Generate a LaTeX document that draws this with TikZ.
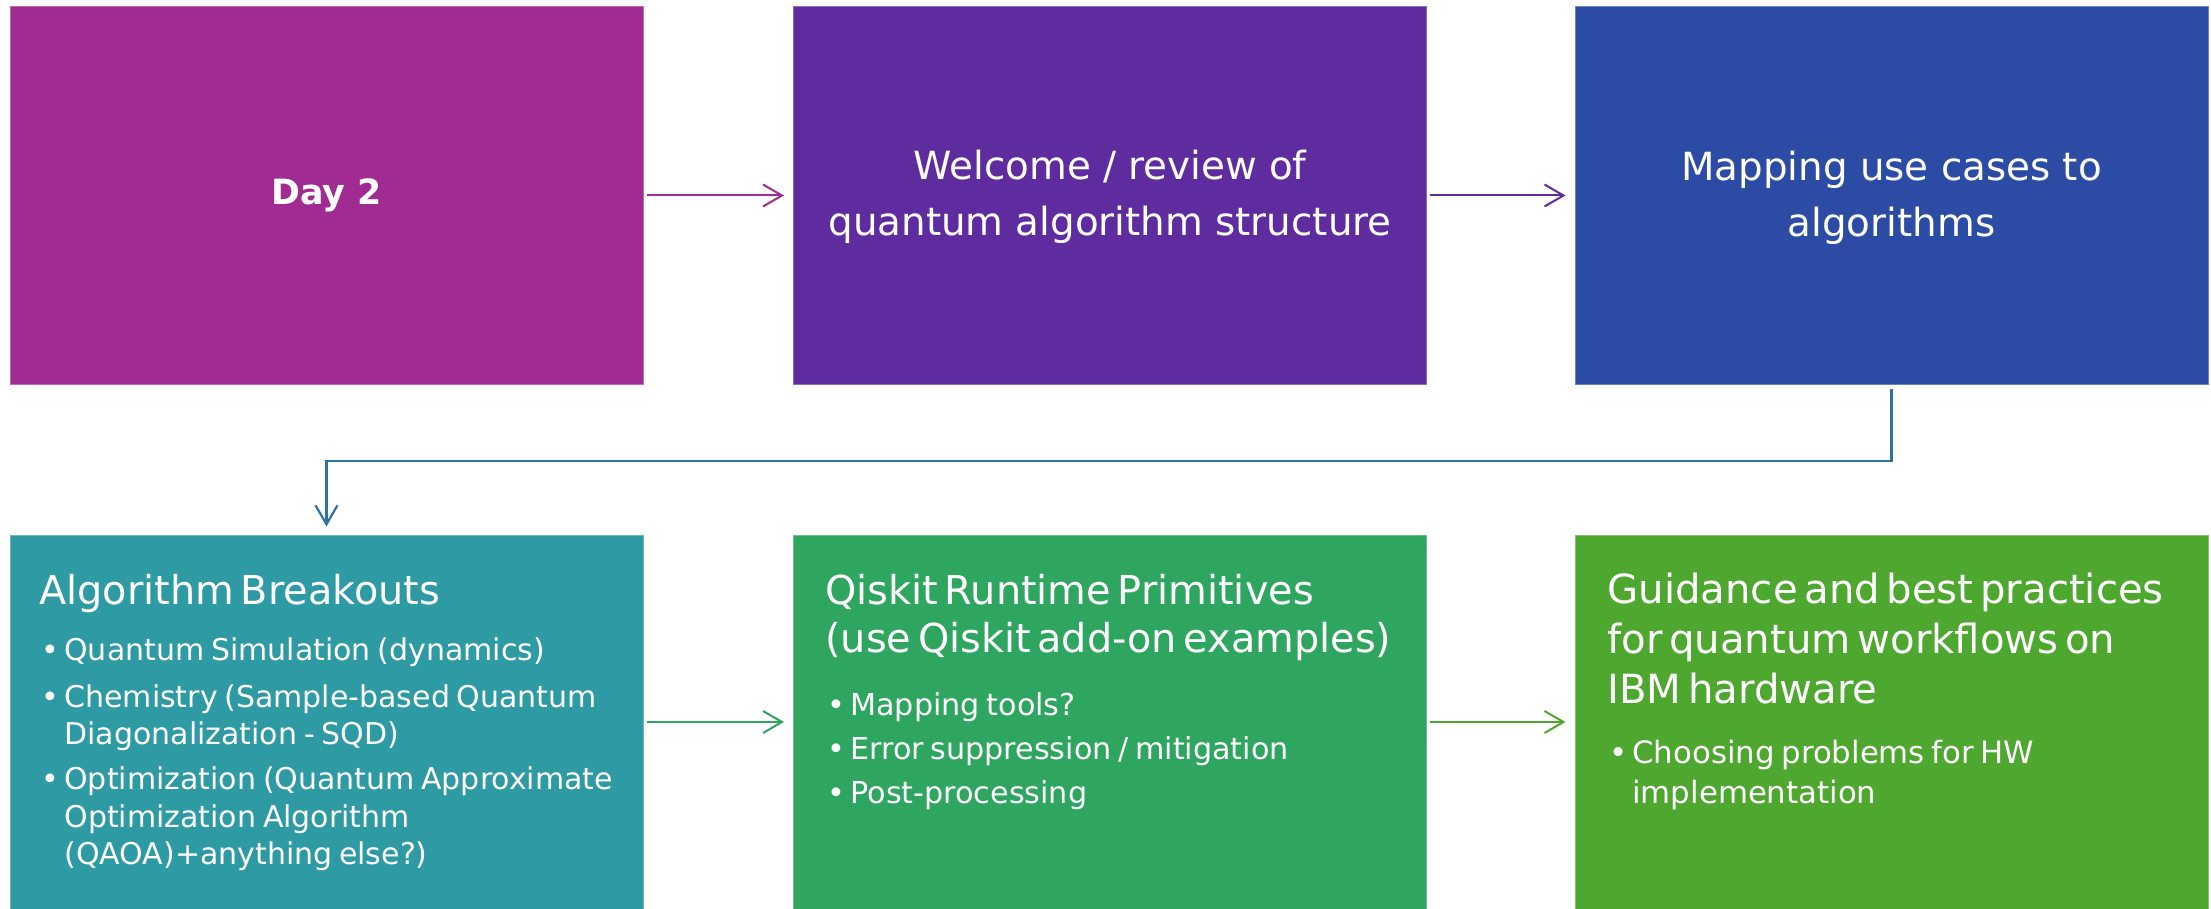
\documentclass[tikz,border=0pt]{standalone}
\usepackage{fontspec}
\setmainfont{DejaVu Sans}
\usetikzlibrary{arrows.meta}
\definecolor{cA}{RGB}{160,43,147}
\definecolor{cB}{RGB}{95,44,160}
\definecolor{cC}{RGB}{44,75,164}
\definecolor{cD}{RGB}{46,154,164}
\definecolor{cE}{RGB}{46,166,96}
\definecolor{cF}{RGB}{78,167,46}
\definecolor{cL}{RGB}{46,114,170}
\newlength{\bind}\setlength{\bind}{12.5pt}
\newcommand{\bul}[1]{\par\hangindent=\bind\hangafter=1\noindent\makebox[\bind][l]{\hspace{1pt}•}#1}
\begin{document}
\begin{tikzpicture}[x=0.5pt,y=-0.5pt,
  box/.style={rectangle, inner sep=0pt, minimum width=316.5pt, draw=#1!70!white, fill=#1, line width=0.5pt},
  toptxt/.style={text=white, align=center, inner sep=0pt, font=\fontsize{19.4}{28}\selectfont},
  btxt/.style={text=white, anchor=base west, text width=300pt, align=left, inner sep=0pt},
  arr/.style={draw=#1, line width=1pt, -{Straight Barb[length=9.5pt,width=11pt]}}]
\useasboundingbox (0,0) rectangle (2211,909);
\node[box=cA, minimum height=188.5pt] (b1) at (326.5,195.5) {};
\node[box=cB, minimum height=188.5pt] (b2) at (1110,195.5) {};
\node[box=cC, minimum height=188.5pt] (b3) at (1891.5,195.5) {};
\node[box=cD, minimum height=187pt] (b4) at (326.5,722) {};
\node[box=cE, minimum height=187pt] (b5) at (1110,722) {};
\node[box=cF, minimum height=187pt] (b6) at (1891.5,722) {};
\node[text=white, inner sep=0pt, font=\fontsize{17.4}{21}\selectfont\bfseries] (t1) at (b1.center) {Day 2};
\node[toptxt] (t2) at (1110,197) {Welcome / review of\\quantum algorithm structure};
\node[toptxt] (t3) at (1891.5,198) {Mapping use cases to\\algorithms};
\node[btxt] (t4) at (39,604) {{\fontsize{19.9}{25}\selectfont Algorithm Breakouts\par}
\fontsize{15}{18.75}\selectfont\vspace{9.25pt}
\bul{Quantum Simulation (dynamics)}\par\vspace{4.75pt}
\bul{Chemistry (Sample-based Quantum\newline Diagonalization - SQD)}\par\vspace{3.75pt}
\bul{Optimization (Quantum Approximate\newline Optimization Algorithm\newline (QAOA)+anything else?)}\par};
\node[btxt] (t5) at (825,604) {{\fontsize{19.9}{24}\selectfont Qiskit Runtime Primitives\newline (use Qiskit add-on examples)\par}
\fontsize{15.1}{22}\selectfont\vspace{9.5pt}
\bul{Mapping tools?}\par
\bul{Error suppression / mitigation}\par
\bul{Post-processing}\par};
\node[btxt] (t6) at (1607,603) {{\fontsize{20.1}{25}\selectfont Guidance and best practices\newline for quantum workflows on\newline IBM hardware\par}
\fontsize{15.4}{20}\selectfont\vspace{10pt}
\bul{Choosing problems for HW\newline implementation}\par};
\coordinate (elb) at (1100,461);
\draw[arr=cA, shorten <=1.5pt, shorten >=4.5pt] (b1.east) -- (b2.west);
\draw[arr=cB, shorten <=1.5pt, shorten >=4.5pt] (b2.east) -- (b3.west);
\draw[arr=cL, line width=1.1pt, shorten <=2pt, shorten >=4pt] (b3.south) |- (elb) -| (b4.north);
\draw[arr=cE, shorten <=1.5pt, shorten >=4.5pt] (b4.east) -- (b5.west);
\draw[arr=cF, shorten <=1.5pt, shorten >=4.5pt] (b5.east) -- (b6.west);
\end{tikzpicture}
\end{document}
